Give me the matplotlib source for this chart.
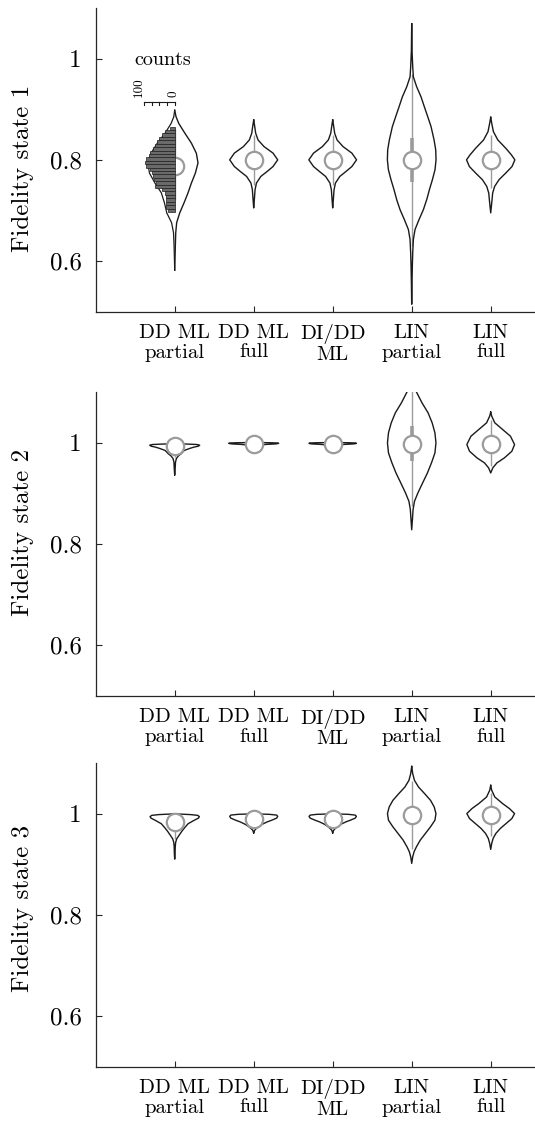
import matplotlib
matplotlib.use("Agg")
import matplotlib.pyplot as plt
import numpy as np

# ---------------- data ----------------
methods = ["DD ML\npartial", "DD ML\nfull", "DI/DD\nML", "LIN\npartial", "LIN\nfull"]
ylabels = ["Fidelity state 1", "Fidelity state 2", "Fidelity state 3"]
yticks = [0.6, 0.8, 1.0]
yticklabels = ["0.6", "0.8", "1"]

# violin outlines: fidelity values (y) and half-widths (w, in category units)
p1_v1_y = [0.898, 0.885, 0.872, 0.853, 0.833, 0.813, 0.794, 0.774, 0.754, 0.735, 0.715, 0.695, 0.676, 0.656, 0.630, 0.582]
p1_v1_w = [0, 0.017, 0.051, 0.127, 0.211, 0.274, 0.295, 0.262, 0.211, 0.169, 0.118, 0.063, 0.025, 0.013, 0.008, 0]
p1_v1_wleft = [0, 0.012, 0.045, 0.12, 0.22, 0.30, 0.34, 0.32, 0.25, 0.17, 0.13, 0.10, 0.04, 0.015, 0.008, 0]
p1_v2_y = [0.8787, 0.8688, 0.8525, 0.8393, 0.8262, 0.8132, 0.800, 0.7868, 0.777, 0.7672, 0.7542, 0.741, 0.7213, 0.705]
p1_v2_w = [0, 0.010, 0.025, 0.055, 0.13, 0.245, 0.304, 0.245, 0.17, 0.09, 0.035, 0.017, 0.008, 0]
p1_v3_y = [0.8787, 0.8688, 0.8525, 0.8393, 0.8262, 0.8132, 0.800, 0.7868, 0.777, 0.7672, 0.7542, 0.741, 0.7213, 0.705]
p1_v3_w = [0, 0.010, 0.025, 0.055, 0.13, 0.243, 0.302, 0.243, 0.168, 0.09, 0.035, 0.017, 0.008, 0]
p1_v4_y = [1.0688, 1.0163, 0.9835, 0.9638, 0.9442, 0.9245, 0.9048, 0.8852, 0.8655, 0.8393, 0.8197, 0.800,
           0.7803, 0.7607, 0.741, 0.7213, 0.7017, 0.682, 0.6623, 0.6427, 0.6165, 0.5902, 0.5575, 0.5148]
p1_v4_w = [0, 0.004, 0.013, 0.021, 0.063, 0.118, 0.16, 0.203, 0.245, 0.283, 0.304, 0.308,
           0.295, 0.262, 0.224, 0.19, 0.148, 0.093, 0.042, 0.021, 0.013, 0.008, 0.004, 0]
p1_v5_y = [0.884, 0.8722, 0.8557, 0.8393, 0.823, 0.8098, 0.800, 0.7868, 0.7738, 0.7607, 0.7475, 0.7345, 0.7148, 0.6952]
p1_v5_w = [0, 0.013, 0.034, 0.09, 0.19, 0.262, 0.306, 0.27, 0.19, 0.105, 0.05, 0.025, 0.013, 0]

p2_v1_y = [0.9985, 0.9975, 0.9968, 0.9955, 0.9935, 0.9915, 0.989, 0.985, 0.979, 0.974, 0.969, 0.962, 0.950, 0.936]
p2_v1_w = [0, 0.18, 0.28, 0.316, 0.30, 0.24, 0.19, 0.12, 0.084, 0.045, 0.021, 0.01, 0.006, 0]
p2_v2_y = [1.0008, 1.0003, 0.9998, 0.9990, 0.9980, 0.9970, 0.9955, 0.993, 0.990, 0.986]
p2_v2_w = [0, 0.2, 0.30, 0.316, 0.28, 0.16, 0.06, 0.015, 0.005, 0]
p2_v3_y = [1.0008, 1.0003, 0.9998, 0.9990, 0.9980, 0.9970, 0.9955, 0.993, 0.990, 0.986]
p2_v3_w = [0, 0.19, 0.29, 0.30, 0.27, 0.15, 0.06, 0.015, 0.005, 0]
p2_v4_y = [1.14, 1.12, 1.1017, 1.0792, 1.0594, 1.0396, 1.0198, 1.0, 0.9802, 0.9604, 0.9406, 0.9208, 0.901,
           0.8845, 0.868, 0.8482, 0.8284]
p2_v4_w = [0, 0.025, 0.056, 0.13, 0.207, 0.259, 0.294, 0.307, 0.294, 0.25, 0.199, 0.138, 0.078,
           0.035, 0.017, 0.009, 0]
p2_v5_y = [1.0607, 1.0528, 1.0396, 1.0264, 1.0132, 0.9967, 0.9835, 0.9703, 0.9604, 0.9505, 0.9406]
p2_v5_w = [0, 0.013, 0.052, 0.151, 0.25, 0.302, 0.268, 0.173, 0.078, 0.026, 0]

p3_v1_y = [0.9995, 0.998, 0.9965, 0.994, 0.991, 0.987, 0.980, 0.972, 0.965, 0.957, 0.950, 0.943, 0.935, 0.920, 0.910]
p3_v1_w = [0, 0.20, 0.29, 0.312, 0.30, 0.25, 0.17, 0.125, 0.09, 0.055, 0.025, 0.012, 0.007, 0.004, 0]
p3_v2_y = [0.9995, 0.9985, 0.997, 0.9945, 0.991, 0.987, 0.9835, 0.979, 0.974, 0.970, 0.967, 0.964, 0.961]
p3_v2_w = [0, 0.2, 0.29, 0.304, 0.29, 0.23, 0.17, 0.11, 0.06, 0.03, 0.012, 0.005, 0]
p3_v3_y = [0.9995, 0.9985, 0.997, 0.9945, 0.991, 0.987, 0.9835, 0.979, 0.974, 0.970, 0.967, 0.964, 0.961]
p3_v3_w = [0, 0.2, 0.285, 0.30, 0.285, 0.225, 0.165, 0.105, 0.058, 0.03, 0.012, 0.005, 0]
p3_v4_y = [1.0931, 1.0787, 1.0656, 1.0525, 1.0393, 1.0262, 1.0131, 1.0, 0.9869, 0.9738, 0.9607, 0.9475,
           0.9344, 0.9246, 0.9148, 0.9016]
p3_v4_w = [0, 0.013, 0.035, 0.086, 0.164, 0.238, 0.285, 0.307, 0.294, 0.238, 0.173, 0.108, 0.060, 0.030, 0.013, 0]
p3_v5_y = [1.0557, 1.0459, 1.0328, 1.0197, 1.0098, 1.0, 0.9902, 0.9803, 0.9705, 0.9607, 0.9508, 0.941, 0.9292]
p3_v5_w = [0, 0.013, 0.052, 0.151, 0.238, 0.302, 0.268, 0.194, 0.121, 0.065, 0.03, 0.013, 0]

# summary statistics (median, quartiles, whiskers) per panel
p1_median = [0.788, 0.800, 0.800, 0.800, 0.800]
p1_q1 = [0.775, 0.787, 0.787, 0.757, 0.787]
p1_q3 = [0.805, 0.813, 0.813, 0.843, 0.813]
p1_lo = [0.72, 0.75, 0.75, 0.63, 0.745]
p1_hi = [0.86, 0.85, 0.85, 0.97, 0.85]

p2_median = [0.993, 0.997, 0.997, 0.997, 0.997]
p2_q1 = [0.990, 0.996, 0.996, 0.964, 0.985]
p2_q3 = [0.997, 0.999, 0.999, 1.033, 1.009]
p2_lo = [0.972, 0.994, 0.994, 0.876, 0.954]
p2_hi = [0.999, 1.0, 1.0, 1.12, 1.046]

p3_median = [0.984, 0.990, 0.990, 0.997, 0.997]
p3_q1 = [0.975, 0.985, 0.985, 0.983, 0.987]
p3_q3 = [0.995, 0.996, 0.996, 1.011, 1.007]
p3_lo = [0.95, 0.972, 0.972, 0.93, 0.955]
p3_hi = [0.999, 0.999, 0.999, 1.065, 1.04]

# histogram of state-1 fidelities for "DD ML partial" (top bin first)
hist_top = 0.8655
hist_bottom = 0.6970
hist_counts = [16, 33, 43, 51, 58, 64, 71, 79, 84, 92, 98, 95, 79, 75, 71, 68, 62, 64, 43, 33, 27, 29, 29, 27, 22]
hist_ticks = [0, 25, 50, 75, 100]
hist_ticklabels = {0: "0", 100: "100"}

# ---------------- style ----------------
plt.rcParams["font.family"] = ["cmr10", "DejaVu Serif"]
plt.rcParams["axes.unicode_minus"] = False
BLACK = "#1a1a1a"
GREY = "#9b9b9b"
AXC = "#262626"

fig = plt.figure(figsize=(5.35, 11.25), dpi=100)
bottoms = [0.72293, 0.38133, 0.05182]
label_ypos = [0.473, 0.539, 0.52]

panels = [
    ([(p1_v1_y, p1_v1_w), (p1_v2_y, p1_v2_w), (p1_v3_y, p1_v3_w), (p1_v4_y, p1_v4_w), (p1_v5_y, p1_v5_w)],
     (p1_median, p1_q1, p1_q3, p1_lo, p1_hi)),
    ([(p2_v1_y, p2_v1_w), (p2_v2_y, p2_v2_w), (p2_v3_y, p2_v3_w), (p2_v4_y, p2_v4_w), (p2_v5_y, p2_v5_w)],
     (p2_median, p2_q1, p2_q3, p2_lo, p2_hi)),
    ([(p3_v1_y, p3_v1_w), (p3_v2_y, p3_v2_w), (p3_v3_y, p3_v3_w), (p3_v4_y, p3_v4_w), (p3_v5_y, p3_v5_w)],
     (p3_median, p3_q1, p3_q3, p3_lo, p3_hi)),
]

count_scale = 0.003886  # category units per count

for pi, (violins, stats) in enumerate(panels):
    ax = fig.add_axes([0.1789, bottoms[pi], 0.8269, 0.2700])
    ax.set_xlim(0, 5.6)
    ax.set_ylim(0.5, 1.1)
    med, q1, q3, lo, hi = stats
    for i, (vy, vw) in enumerate(violins):
        c = i + 1
        vy = np.asarray(vy)
        vw = np.asarray(vw)
        # whisker + box
        ax.plot([c, c], [lo[i], hi[i]], color=GREY, lw=1.0, zorder=2, solid_capstyle="butt")
        ax.plot([c, c], [q1[i], q3[i]], color=GREY, lw=2.6, zorder=2.1, solid_capstyle="butt")
        if pi == 0 and i == 0:
            # right half outline only; left half mostly hidden behind histogram
            ax.plot(c + vw, vy, color=BLACK, lw=1.0, zorder=3)
            ax.plot(c - np.asarray(p1_v1_wleft), vy, color=BLACK, lw=0.9, zorder=4.5)
        else:
            xs = np.concatenate([c + vw, (c - vw)[::-1]])
            ys = np.concatenate([vy, vy[::-1]])
            ax.plot(xs, ys, color=BLACK, lw=1.0, zorder=3)
        ax.plot([c], [med[i]], "o", ms=12.5, mfc="white", mec=GREY, mew=1.6, zorder=4)

    if pi == 0:
        n = len(hist_counts)
        edges = np.linspace(hist_top, hist_bottom, n + 1)
        centers = (edges[:-1] + edges[1:]) / 2
        h = (hist_top - hist_bottom) / n
        cnt = np.asarray(hist_counts)
        ax.barh(centers, cnt * count_scale, left=1 - cnt * count_scale, height=h,
                color="#6a6a6a", edgecolor="#202020", lw=0.5, zorder=5)
        # count axis
        yax = 0.9147
        ax.plot([1 - 100 * count_scale, 1], [yax, yax], color=BLACK, lw=0.8, zorder=5)
        for t in hist_ticks:
            ax.plot([1 - t * count_scale] * 2, [yax, yax - 0.006], color=BLACK, lw=0.8, zorder=5)
        ax.text(1 - 100 * count_scale - 0.06, yax + 0.01, hist_ticklabels[100], rotation=90,
                ha="center", va="bottom", fontsize=9.5)
        ax.text(1 - 0.015, yax + 0.01, hist_ticklabels[0], rotation=90,
                ha="center", va="bottom", fontsize=9.5)
        ax.text(0.846, 0.997, "counts", ha="center", va="center", fontsize=14.5)

    ax.set_xticks(range(1, len(methods) + 1))
    ax.set_xticklabels(methods, fontsize=15, linespacing=1.1)
    ax.set_yticks(yticks)
    ax.set_yticklabels(yticklabels, fontsize=18)
    ax.tick_params(axis="x", direction="in", length=4.5, width=0.8, color=AXC, pad=9)
    ax.tick_params(axis="y", direction="in", length=4, width=0.8, color=AXC, pad=10)
    for s in ["top", "right"]:
        ax.spines[s].set_visible(False)
    for s in ["left", "bottom"]:
        ax.spines[s].set_color(AXC)
        ax.spines[s].set_linewidth(0.9)
    ax.set_ylabel(ylabels[pi], fontsize=18)
    ax.yaxis.set_label_coords(-0.1395, label_ypos[pi])

fig.savefig("out.png", dpi=100)
